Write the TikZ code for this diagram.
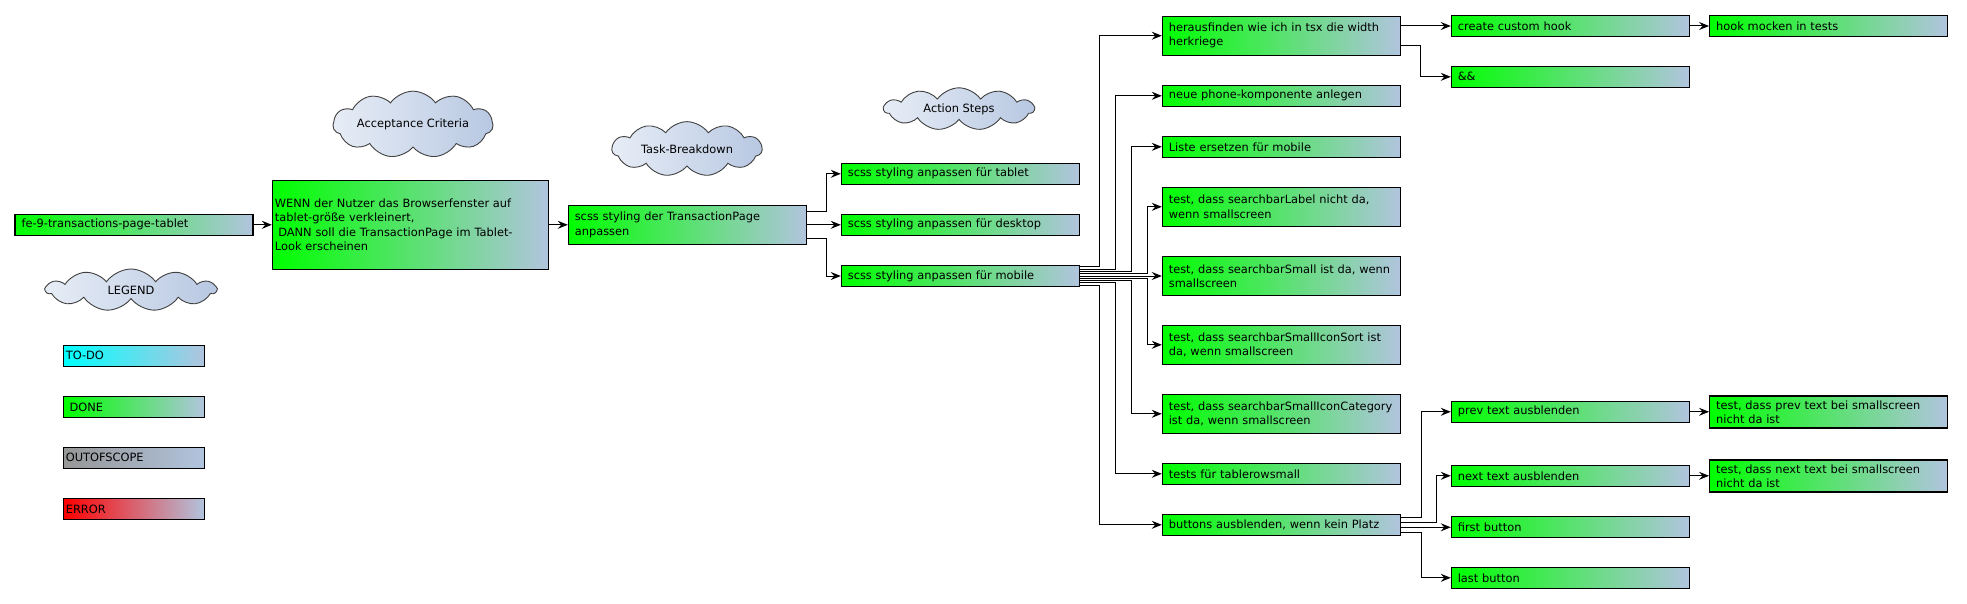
\documentclass[tikz,border=0pt]{standalone}
\usepackage{fontspec}
\setmainfont{DejaVu Sans}
\usetikzlibrary{arrows.meta,shapes.symbols}

\definecolor{donegreen}{RGB}{0,255,0}
\definecolor{steelend}{RGB}{177,196,222}
\definecolor{todocyan}{RGB}{0,255,255}
\definecolor{scopegray}{RGB}{150,150,150}
\definecolor{errorred}{RGB}{255,0,0}
\definecolor{cloudlight}{RGB}{231,237,246}
\definecolor{cloudsteel}{RGB}{184,200,226}

\tikzset{
    task/.style={rectangle,draw=black,line width=1.1pt,align=left,
        text width=225pt,inner xsep=6.5pt,inner ysep=0pt,minimum height=21pt,
        left color=donegreen,right color=steelend},
    tall/.style={minimum height=39pt},
    story/.style={task,text width=271pt,inner xsep=2.5pt,minimum height=89pt},
    legendbox/.style={task,text width=136pt,inner xsep=2.5pt},
    bubble/.style={cloud,draw=black!75,line width=0.9pt,cloud puffs=11,
        cloud puff arc=110,aspect=3.5,inner sep=0pt,minimum height=42pt,
        left color=cloudlight,right color=cloudsteel},
    arr/.style={-{Stealth[length=10pt,width=8pt,inset=3.5pt]},line width=1pt}
}

\begin{document}
\begin{tikzpicture}[x=1pt,y=-1pt,font=\fontsize{11.4}{14.3}\selectfont]
            \useasboundingbox (0,0) rectangle (1967,604);
            \begin{scope}[every node/.style={bubble}]
                \node[minimum width=170pt] (legend) at (131,290) {LEGEND};
                \node[minimum width=160pt] (accept) at (413,124.5) {Acceptance Criteria};
                \node[minimum width=150pt] (breakdown) at (687,149) {Task-Breakdown};
                \node[minimum width=150pt] (actions) at (959,109) {Action Steps};
            \end{scope}
            \begin{scope}[every node/.style={legendbox}]
                \node[left color=todocyan] (todo) at (133.8,355.8) {TO-DO};
                \node (done) at (133.8,407) {\ DONE};
                \node[left color=scopegray] (outofscope) at (133.8,457.8) {OUTOFSCOPE};
                \node[left color=errorred] (error) at (133.8,509) {ERROR};
            \end{scope}
            \node[task] (fe9) at (134,224.8) {fe-9-transactions-page-tablet};
            \node[story] (wenn) at (410.4,224.8) {WENN der Nutzer das Browserfenster auf\\tablet-größe verkleinert,\\\hspace*{0.3em}DANN soll die TransactionPage im Tablet-\\Look erscheinen};
            \node[task,tall] (tp) at (687.3,224.8) {scss styling der TransactionPage\\anpassen};
            \begin{scope}[every node/.style={task}]
                \node (tablet) at (960.3,173.8) {scss styling anpassen für tablet};
                \node (desktop) at (960.3,224.8) {scss styling anpassen für desktop};
                \node (mobile) at (960.3,276) {scss styling anpassen für mobile};
                \node[tall] (find) at (1281.3,35.7) {herausfinden wie ich in tsx die width\\herkriege};
                \node (phone) at (1281.3,95.8) {neue phone-komponente anlegen};
                \node (liste) at (1281.3,146.8) {Liste ersetzen für mobile};
                \node[tall] (label) at (1281.3,206.8) {test, dass searchbarLabel nicht da,\\wenn smallscreen};
                \node[tall] (small) at (1281.3,276) {test, dass searchbarSmall ist da, wenn\\smallscreen};
                \node[tall] (sort) at (1281.3,344.8) {test, dass searchbarSmallIconSort ist\\da, wenn smallscreen};
                \node[tall] (category) at (1281.3,413.8) {test, dass searchbarSmallIconCategory\\ist da, wenn smallscreen};
                \node (tablerow) at (1281.3,473.8) {tests für tablerowsmall};
                \node (buttons) at (1281.3,524.8) {buttons ausblenden, wenn kein Platz};
                \node (create) at (1570.3,26) {create custom hook};
                \node (amp) at (1570.3,76.8) {\&\&};
                \node (prev) at (1570.3,411.8) {prev text ausblenden};
                \node (next) at (1570.3,475.8) {next text ausblenden};
                \node (first) at (1570.3,527.3) {first button};
                \node (last) at (1570.3,577.8) {last button};
                \node (hook) at (1828.6,26) {hook mocken in tests};
                \node[minimum height=32pt] (tprev) at (1828.6,412) {test, dass prev text bei smallscreen\\nicht da ist};
                \node[minimum height=32pt] (tnext) at (1828.6,476) {test, dass next text bei smallscreen\\nicht da ist};
            \end{scope}
            \draw[arr] (fe9.east) -- (fe9.east -| wenn.west);
            \draw[arr] (wenn.east) -- (wenn.east -| tp.west);
            \draw[arr] ([yshift=13.3pt]tp.east) -- ++(19.5,0) |- (tablet.west);
            \draw[arr] (tp.east) -- (tp.east -| desktop.west);
            \draw[arr] ([yshift=-13.3pt]tp.east) -- ++(19.5,0) |- (mobile.west);
            \draw[arr] ([yshift=9.2pt]mobile.east) -- ++(20,0) |- (find.west);
            \draw[arr] ([yshift=6.9pt]mobile.east) -- ++(36,0) |- (phone.west);
            \draw[arr] ([yshift=4.6pt]mobile.east) -- ++(52,0) |- (liste.west);
            \draw[arr] ([yshift=2.3pt]mobile.east) -- ++(68,0) |- (label.west);
            \draw[arr] (mobile.east) -- (small.west);
            \draw[arr] ([yshift=-2.3pt]mobile.east) -- ++(68,0) |- (sort.west);
            \draw[arr] ([yshift=-4.6pt]mobile.east) -- ++(52,0) |- (category.west);
            \draw[arr] ([yshift=-6.9pt]mobile.east) -- ++(36,0) |- (tablerow.west);
            \draw[arr] ([yshift=-9.2pt]mobile.east) -- ++(20,0) |- (buttons.west);
            \draw[arr] ([yshift=9.7pt]find.east) -- (create.west);
            \draw[arr] ([yshift=-9.7pt]find.east) -- ++(20,0) |- (amp.west);
            \draw[arr] (create.east) -- (hook.west);
            \draw[arr] ([yshift=7.5pt]buttons.east) -- ++(21,0) |- (prev.west);
            \draw[arr] ([yshift=2.5pt]buttons.east) -- ++(36,0) |- (next.west);
            \draw[arr] ([yshift=-2.5pt]buttons.east) -- (first.west);
            \draw[arr] ([yshift=-7.5pt]buttons.east) -- ++(21,0) |- (last.west);
            \draw[arr] (prev.east) -- (prev.east -| tprev.west);
            \draw[arr] (next.east) -- (next.east -| tnext.west);
        \end{tikzpicture}
\end{document}
